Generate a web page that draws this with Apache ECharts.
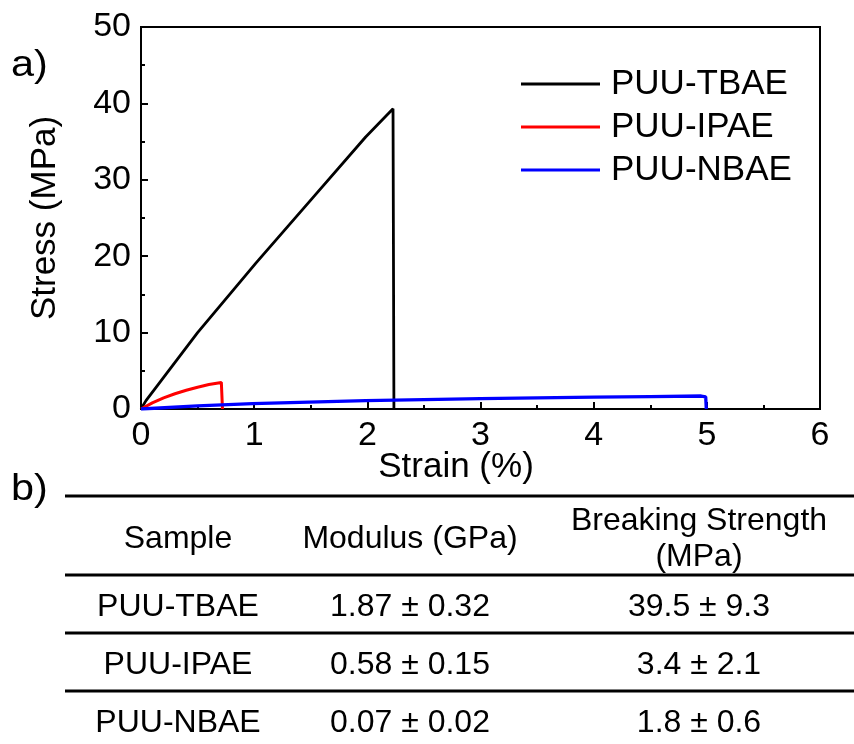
<!DOCTYPE html>
<html>
<head>
<meta charset="utf-8">
<script src="https://cdn.jsdelivr.net/npm/echarts@6/dist/echarts.min.js"></script>
<style>
html,body{margin:0;padding:0;background:#fff;}
#chart{width:854px;height:744px;}
</style>
</head>
<body>
<div id="chart"></div>
<script>
// ---- data ----
const seriesNames = ['PUU-TBAE', 'PUU-IPAE', 'PUU-NBAE'];
const tbaeStrain = [0, 0.044, 0.5, 1.015, 1.515, 1.985, 2.227, 2.235];
const tbaeStress = [0, 1.1, 10.0, 19.1, 27.6, 35.6, 39.3, 0];
const ipaeStrain = [0, 0.1, 0.2, 0.3, 0.4, 0.5, 0.6, 0.71, 0.72];
const ipaeStress = [0, 0.8, 1.45, 2.0, 2.45, 2.85, 3.2, 3.48, 0];
const nbaeStrain = [0, 0.5, 0.985, 1.485, 1.985, 2.5, 3, 3.5, 4, 4.5, 4.95, 4.99, 4.995];
const nbaeStress = [0, 0.4, 0.7, 0.91, 1.09, 1.22, 1.35, 1.45, 1.55, 1.63, 1.7, 1.6, 0];
const xTicks = [0, 1, 2, 3, 4, 5, 6];
const yTicks = [0, 10, 20, 30, 40, 50];
const xTitle = 'Strain (%)';
const yTitle = 'Stress (MPa)';
const tableHeader = ['Sample', 'Modulus (GPa)', 'Breaking Strength\n(MPa)'];
const tableRows = [
  ['PUU-TBAE', '1.87 ± 0.32', '39.5 ± 9.3'],
  ['PUU-IPAE', '0.58 ± 0.15', '3.4 ± 2.1'],
  ['PUU-NBAE', '0.07 ± 0.02', '1.8 ± 0.6']
];

const FONT = '"Liberation Sans", Arial, sans-serif';
const colors = ['#000000', '#ff0000', '#0000ff'];
const widths = [2.8, 3, 3.3];
const strains = [tbaeStrain, ipaeStrain, nbaeStrain];
const stresses = [tbaeStress, ipaeStress, nbaeStress];

const chart = echarts.init(document.getElementById('chart'));

// table graphics
const colX = [178, 410, 699];
const lineYs = [496, 575, 633, 691];
const rowYs = [607, 665, 723];
const graphic = [];
lineYs.forEach(y => {
  graphic.push({type: 'line', shape: {x1: 65, y1: y, x2: 854, y2: y},
    style: {stroke: '#000', lineWidth: 3}});
});
tableHeader.forEach((t, i) => {
  graphic.push({type: 'text', x: colX[i], y: 539,
    style: {text: t, font: '32px ' + FONT, fill: '#000', align: 'center',
      verticalAlign: 'middle', lineHeight: 36}});
});
tableRows.forEach((row, r) => {
  row.forEach((t, c) => {
    graphic.push({type: 'text', x: colX[c], y: rowYs[r],
      style: {text: t, font: '32px ' + FONT, fill: '#000', align: 'center', verticalAlign: 'middle'}});
  });
});
graphic.push({type: 'text', x: 11, y: 66, scaleX: 1.15,
  style: {text: 'a)', font: '36px ' + FONT, fill: '#000', verticalAlign: 'middle'}});
graphic.push({type: 'text', x: 11, y: 490, scaleX: 1.15,
  style: {text: 'b)', font: '36px ' + FONT, fill: '#000', verticalAlign: 'middle'}});
graphic.push({type: 'text', x: 456, y: 467,
  style: {text: xTitle, font: '35px ' + FONT, fill: '#000', align: 'center', verticalAlign: 'middle'}});

const option = {
  animation: false,
  backgroundColor: '#fff',
  textStyle: {fontFamily: FONT},
  grid: {left: 141, right: 34, top: 27, bottom: 335, show: true,
    borderColor: '#000', borderWidth: 2, backgroundColor: 'transparent'},
  legend: {
    orient: 'vertical', left: 521, top: 66, padding: 0,
    itemWidth: 79, itemHeight: 3, itemGap: 7,
    textStyle: {fontSize: 35, color: '#000', fontFamily: FONT, padding: [0, 0, 0, 6], lineHeight: 36},
    data: seriesNames.map((n, i) => ({name: n, icon: 'rect',
      itemStyle: {color: colors[i], borderWidth: 0}}))
  },
  xAxis: {
    type: 'value', min: xTicks[0], max: xTicks[xTicks.length - 1], interval: 1,
    axisLine: {show: true, onZero: false, lineStyle: {color: '#000', width: 2}},
    axisTick: {show: true, inside: true, length: 7, lineStyle: {color: '#000', width: 2}},
    minorTick: {show: true, splitNumber: 2, length: 4, lineStyle: {color: '#000', width: 2}},
    axisLabel: {fontSize: 34, color: '#000', margin: 10, fontFamily: FONT},
    splitLine: {show: false}
  },
  yAxis: {
    type: 'value', min: yTicks[0], max: yTicks[yTicks.length - 1], interval: 10,
    name: yTitle, nameLocation: 'middle', nameGap: 78, nameRotate: 90,
    nameTextStyle: {fontSize: 35, color: '#000', fontFamily: FONT},
    axisLine: {show: true, onZero: false, lineStyle: {color: '#000', width: 2}},
    axisTick: {show: true, inside: true, length: 7, lineStyle: {color: '#000', width: 2}},
    minorTick: {show: true, splitNumber: 2, length: 4, lineStyle: {color: '#000', width: 2}},
    axisLabel: {fontSize: 34, color: '#000', margin: 10, fontFamily: FONT},
    splitLine: {show: false}
  },
  series: seriesNames.map((n, i) => ({
    name: n, type: 'line', symbol: 'none', smooth: false,
    data: strains[i].map((x, j) => [x, stresses[i][j]]),
    lineStyle: {color: colors[i], width: widths[i]},
    itemStyle: {color: colors[i]},
    z: 2 + i
  })),
  graphic: graphic
};
chart.setOption(option);
</script>
</body>
</html>
